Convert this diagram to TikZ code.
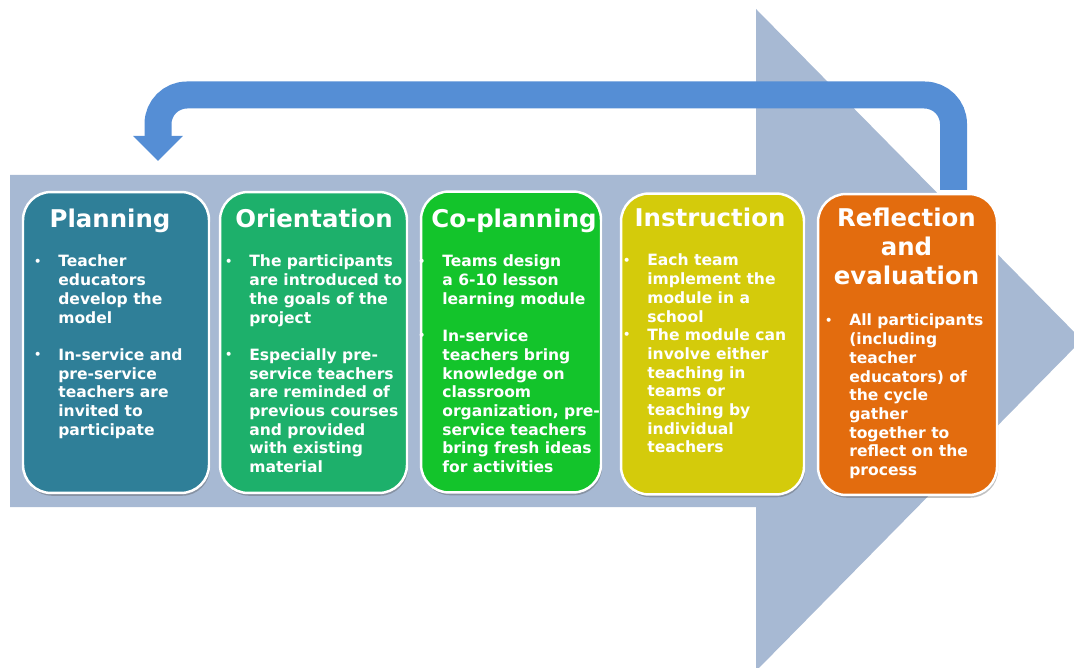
\documentclass[tikz,border=0pt]{standalone}
\usepackage{fontspec}
\setmainfont{DejaVu Sans}
\usetikzlibrary{shadows}

\definecolor{flow}{HTML}{A7B9D3}
\definecolor{loopblue}{HTML}{558ED5}
\definecolor{stageA}{HTML}{2F7F98}
\definecolor{stageB}{HTML}{1DB06B}
\definecolor{stageC}{HTML}{13C42B}
\definecolor{stageD}{HTML}{D4CB0B}
\definecolor{stageE}{HTML}{E36C0E}

% hanging bullet placed left of the text column
\newcommand\bul{\llap{{\fontsize{6.5}{6.5}\selectfont\raisebox{1.1pt}{•}}\hspace{0.34cm}}}
% block of lines whose reference point is the first baseline
\newcommand\linesblock[2]{\begin{tabular}[t]{@{}#1@{}}#2\end{tabular}}

\begin{document}
\begin{tikzpicture}[x=0.02cm,y=-0.02cm,
  stage/.style={draw=white, line width=1.4pt, rounded corners=0.56cm,
    minimum height=6.02cm, inner sep=0pt,
    drop shadow={shadow xshift=0.6pt, shadow yshift=-1.6pt, opacity=0.35, fill=black!70}},
  title/.style={text=white, font=\fontsize{13.9}{16.5}\selectfont\bfseries,
    inner sep=0pt, anchor=base},
  body/.style={text=white, font=\fontsize{8.85}{10.64}\selectfont\bfseries,
    inner sep=0pt, anchor=base west}]

\useasboundingbox (0,0) rectangle (1074,668);

% large process arrow in the background
\begin{scope}
  \clip (0,0) rectangle (1074,668);
  \fill[flow] (10,175) -- (756,175) -- (756,9) -- (1082,340) -- (756,671)
    -- (756,507) -- (10,507) -- cycle;
\end{scope}

% feedback loop from the last stage back to the first
\coordinate (loopstart) at (953.5,190);
\coordinate (loopend) at (158,136);
\coordinate (looptip) at (158,161);
\draw[loopblue, line width=0.54cm, rounded corners=0.58cm, line cap=butt]
  (loopstart) -- (953.5,95) -- (158,95) -- (loopend);
\fill[loopblue] ([xshift=-0.5cm]loopend) -- ([xshift=0.5cm]loopend) -- (looptip) -- cycle;

% stage boxes
\node[stage, fill=stageA, minimum width=3.72cm] (b1) at (116,342.5) {};
\node[stage, fill=stageB, minimum width=3.74cm] (b2) at (313.5,342.5) {};
\node[stage, fill=stageC, minimum width=3.60cm] (b3) at (511,342) {};
\node[stage, fill=stageD, minimum width=3.66cm] (b4) at (712.5,344) {};
\node[stage, fill=stageE, minimum width=3.58cm] (b5) at (907.5,344.5) {};

% stage titles
\node[title] (t1) at (110,228) {Planning};
\node[title] (t2) at (314,228) {Orientation};
\node[title] (t3) at (514,228) {Co-planning};
\node[title] (t4) at (710,227) {Instruction};
\node[title] (t5) at (906.5,227) {\linesblock{c}{Reflection\\and\\evaluation}};

% stage descriptions
\node[body] (p1) at (58,267) {\linesblock{l}{\bul Teacher\\educators\\develop the\\model\\[0.374cm]
  \bul In-service and\\pre-service\\teachers are\\invited to\\participate}};
\node[body] (p2) at (249,267) {\linesblock{l}{\bul The participants\\are introduced to\\the goals of the\\project\\[0.374cm]
  \bul Especially pre-\\service teachers\\are reminded of\\previous courses\\and provided\\with existing\\material}};
\node[body] (p3) at (442,267) {\linesblock{l}{\bul Teams design\\a 6-10 lesson\\learning module\\[0.374cm]
  \bul In-service\\teachers bring\\knowledge on\\classroom\\organization, pre-\\service teachers\\bring fresh ideas\\for activities}};
\node[body] (p4) at (647,266) {\linesblock{l}{\bul Each team\\implement the\\module in a\\school\\
  \bul The module can\\involve either\\teaching in\\teams or\\teaching by\\individual\\teachers}};
\node[body] (p5) at (849,326) {\linesblock{l}{\bul All participants\\(including\\teacher\\educators) of\\the cycle\\gather\\together to\\reflect on the\\process}};
\end{tikzpicture}
\end{document}
